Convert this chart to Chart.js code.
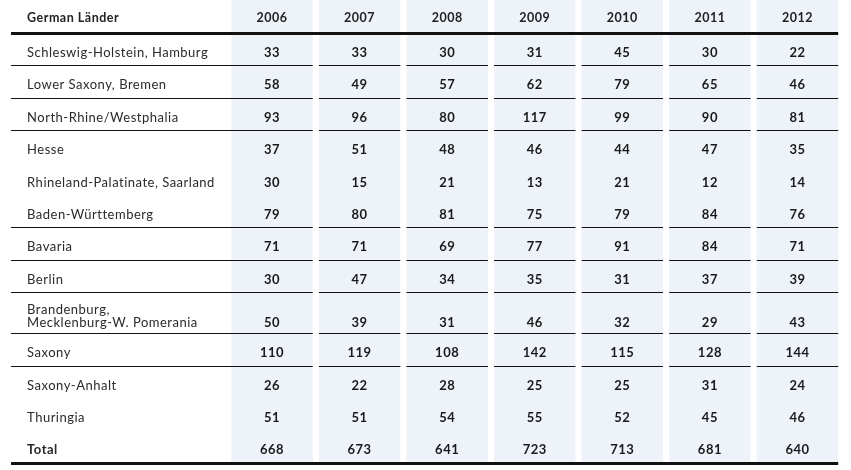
<!DOCTYPE html>
<html>
<head>
<meta charset="utf-8">
<script src="https://cdn.jsdelivr.net/npm/chart.js@4.4.1/dist/chart.umd.min.js"></script>
<style>
  html, body { margin: 0; background: #fff; }
</style>
</head>
<body>
<canvas id="chart" width="851" height="470"></canvas>
<script>
const headerLabel = "German Länder";
const years = ["2006", "2007", "2008", "2009", "2010", "2011", "2012"];
const regions = [
  "Schleswig-Holstein, Hamburg",
  "Lower Saxony, Bremen",
  "North-Rhine/Westphalia",
  "Hesse",
  "Rhineland-Palatinate, Saarland",
  "Baden-Württemberg",
  "Bavaria",
  "Berlin",
  "Brandenburg,\nMecklenburg-W. Pomerania",
  "Saxony",
  "Saxony-Anhalt",
  "Thuringia",
];
const totalLabel = "Total";

// one list per year, same order as regions
const v2006 = [33, 58, 93, 37, 30, 79, 71, 30, 50, 110, 26, 51];
const v2007 = [33, 49, 96, 51, 15, 80, 71, 47, 39, 119, 22, 51];
const v2008 = [30, 57, 80, 48, 21, 81, 69, 34, 31, 108, 28, 54];
const v2009 = [31, 62, 117, 46, 13, 75, 77, 35, 46, 142, 25, 55];
const v2010 = [45, 79, 99, 44, 21, 79, 91, 31, 32, 115, 25, 52];
const v2011 = [30, 65, 90, 47, 12, 84, 84, 37, 29, 128, 31, 45];
const v2012 = [22, 46, 81, 35, 14, 76, 71, 39, 43, 144, 24, 46];
const totals = [668, 673, 641, 723, 713, 681, 640];

const series = [v2006, v2007, v2008, v2009, v2010, v2011, v2012];

// layout helpers (rows measured in row units, two-line labels are taller)
const rowLabels = regions.concat([totalLabel]);
const rowWeights = rowLabels.map((l) => (l.includes("\n") ? 1.27 : 1));
const rowTops = [];
let acc = 0;
rowWeights.forEach((w) => {
  rowTops.push(acc);
  acc += w;
});
const tableBottom = acc;
const rulesAfter = [0, 1, 2, 5, 6, 7, 8, 9];
const colHalf = 0.465;
const labelLeft = -1.98;
const labelTextX = -1.797;

const tablePlugin = {
  id: "tableText",
  afterDatasetsDraw(chart) {
    const { ctx } = chart;
    const x = chart.scales.x;
    const y = chart.scales.y;
    ctx.save();

    // rules
    ctx.strokeStyle = "#111";
    ctx.lineWidth = 1;
    rulesAfter.forEach((r) => {
      const py = Math.round(y.getPixelForValue(rowTops[r] + rowWeights[r])) + 0.5;
      years.forEach((_, k) => {
        const left = k === 0 ? labelLeft : k + 1 - colHalf;
        ctx.beginPath();
        ctx.moveTo(x.getPixelForValue(left), py);
        ctx.lineTo(x.getPixelForValue(k + 1 + colHalf), py);
        ctx.stroke();
      });
    });
    ctx.lineWidth = 3;
    [0, tableBottom].forEach((v) => {
      const py = Math.round(y.getPixelForValue(v)) + 0.5;
      ctx.beginPath();
      ctx.moveTo(x.getPixelForValue(labelLeft), py);
      ctx.lineTo(x.getPixelForValue(years.length + colHalf), py);
      ctx.stroke();
    });

    ctx.letterSpacing = "0.5px";
    // header
    ctx.textBaseline = "middle";
    ctx.fillStyle = "#222";
    ctx.font = "bold 12.5px Lato";
    const hy = y.getPixelForValue(-0.5) + 1;
    ctx.textAlign = "left";
    ctx.fillText(headerLabel, x.getPixelForValue(labelTextX), hy);
    ctx.textAlign = "center";
    years.forEach((yr, k) => ctx.fillText(yr, x.getPixelForValue(k + 1), hy));

    // rows
    rowLabels.forEach((label, r) => {
      const cy = y.getPixelForValue(rowTops[r] + rowWeights[r] / 2) + 3.5;
      const lines = label.split("\n");
      const lh = 13;
      const firstY = cy - ((lines.length - 1) * lh) / 2;
      ctx.textAlign = "left";
      ctx.fillStyle = "#2a2a2a";
      ctx.font = (r === rowLabels.length - 1 ? "bold " : "") + "13px Lato";
      lines.forEach((ln, i) => ctx.fillText(ln, x.getPixelForValue(labelTextX), firstY + i * lh));
      const vy = firstY + (lines.length - 1) * lh;
      ctx.textAlign = "center";
      ctx.fillStyle = "#1a1a1a";
      ctx.font = "bold 13px Lato";
      years.forEach((_, k) => {
        const val = r < regions.length ? series[k][r] : totals[k];
        ctx.fillText(String(val), x.getPixelForValue(k + 1), vy);
      });
    });
    ctx.restore();
  },
};

function draw() {
  const ctx = document.getElementById("chart");
  new Chart(ctx, {
    type: "bar",
    data: {
      datasets: [
        {
          label: "columns",
          data: years.map((_, k) => ({ x: k + 1, y: [-1.1, tableBottom] })),
          backgroundColor: "#eef2f9",
          borderWidth: 0,
          barPercentage: 0.93,
          categoryPercentage: 1,
        },
      ],
    },
    options: {
      responsive: false,
      animation: false,
      devicePixelRatio: 1,
      layout: { padding: 0 },
      plugins: { legend: { display: false }, tooltip: { enabled: false } },
      scales: {
        x: { type: "linear", display: false, offset: false, min: -2.106, max: 7.611 },
        y: {
          type: "linear",
          display: false,
          reverse: true,
          min: -33 / (430 / tableBottom),
          max: tableBottom + 7 / (430 / tableBottom),
        },
      },
    },
    plugins: [tablePlugin],
  });
}

Promise.all([
  document.fonts.load("13px Lato"),
  document.fonts.load("bold 13px Lato"),
]).then(draw, draw);
</script>
</body>
</html>
